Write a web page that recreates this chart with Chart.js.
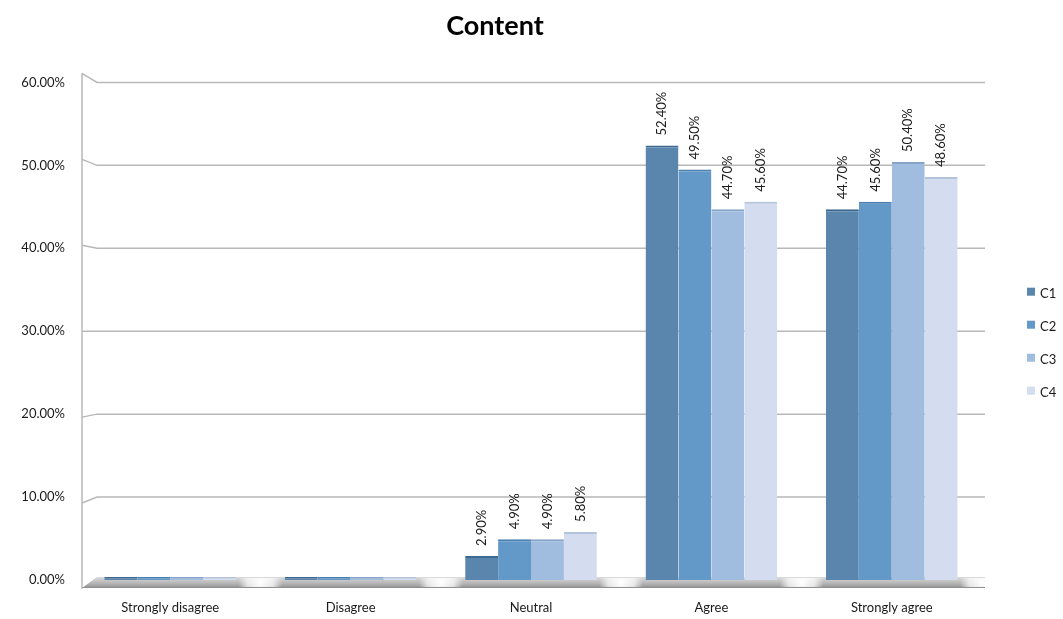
<!DOCTYPE html>
<html>
<head>
<meta charset="utf-8">
<script src="https://cdn.jsdelivr.net/npm/chart.js@4/dist/chart.umd.min.js"></script>
<style>
  html, body { margin: 0; padding: 0; background: #fff; }
  #wrap { width: 1063px; height: 619px; }
</style>
</head>
<body>
<div id="wrap"><canvas id="contentChart" width="1063" height="619"></canvas></div>
<script>
// values (percent)
const categories = ['Strongly disagree', 'Disagree', 'Neutral', 'Agree', 'Strongly agree'];
const seriesNames = ['C1', 'C2', 'C3', 'C4'];
const c1 = [0, 0, 2.9, 52.4, 44.7];
const c2 = [0, 0, 4.9, 49.5, 45.6];
const c3 = [0, 0, 4.9, 44.7, 50.4];
const c4 = [0, 0, 5.8, 45.6, 48.6];
const yTicks = [0, 10, 20, 30, 40, 50, 60];

const fills = ['#5a86ad', '#6399c8', '#a0bde0', '#d3ddef'];
const caps = ['#3f6890', '#4a7fae', '#86a4c8', '#b3c3db'];
const FONT = 'Lato, "Open Sans", sans-serif';

// slanted left wall + gridlines + floor, to mimic the 3D look
const wallPlugin = {
  id: 'wall',
  beforeDatasetsDraw(chart) {
    const { ctx, chartArea: a, scales: { y } } = chart;
    const cy = (a.top + a.bottom) / 2;
    const wallX = a.left + 2, backX = a.left + 17, rightX = a.right + 3;
    const toWall = py => cy + (py - cy) * 1.036;
    ctx.save();
    ctx.strokeStyle = '#b8b8b8';
    ctx.lineWidth = 1.5;
    yTicks.forEach(v => {
      if (v === 0) return;
      const py = y.getPixelForValue(v);
      ctx.beginPath();
      ctx.moveTo(wallX, toWall(py));
      ctx.lineTo(backX, py);
      ctx.lineTo(rightX, py);
      ctx.stroke();
    });
    // wall
    ctx.beginPath();
    ctx.moveTo(wallX, toWall(y.getPixelForValue(60)));
    ctx.lineTo(wallX, toWall(a.bottom - 2) + 2);
    ctx.stroke();

    // floor band
    const top = a.bottom - 3, bot = a.bottom + 8;
    const g = ctx.createLinearGradient(0, top, 0, bot);
    g.addColorStop(0, '#dcdcdc');
    g.addColorStop(0.35, '#c4c4c4');
    g.addColorStop(0.75, '#a9a9a9');
    g.addColorStop(1, '#8a8a8a');
    ctx.fillStyle = g;
    ctx.beginPath();
    ctx.moveTo(backX, top);
    ctx.lineTo(rightX, top);
    ctx.lineTo(rightX, bot);
    ctx.lineTo(wallX, bot);
    ctx.closePath();
    ctx.fill();
    // white highlights between groups
    const x = chart.scales.x;
    const step = x.getPixelForValue(1) - x.getPixelForValue(0);
    for (let i = 0; i < categories.length; i++) {
      const hx = x.getPixelForValue(i) + step / 2;
      const rg = ctx.createRadialGradient(hx, (top + bot) / 2, 0, hx, (top + bot) / 2, 22);
      rg.addColorStop(0, 'rgba(255,255,255,1)');
      rg.addColorStop(0.6, 'rgba(255,255,255,0.7)');
      rg.addColorStop(1, 'rgba(255,255,255,0)');
      ctx.fillStyle = rg;
      ctx.fillRect(hx - 24, top + 1, 48, bot - top - 2);
    }
    ctx.restore();
  },
  afterDatasetsDraw(chart) {
    const { ctx } = chart;
    ctx.save();
    ctx.font = '13px ' + FONT;
    ctx.fillStyle = '#1a1a1a';
    ctx.textAlign = 'left';
    ctx.textBaseline = 'middle';
    chart.data.datasets.forEach((ds, i) => {
      chart.getDatasetMeta(i).data.forEach((bar, j) => {
        const v = ds.data[j];
        if (!v) return;
        ctx.save();
        ctx.translate(bar.x, bar.y - 10);
        ctx.rotate(-Math.PI / 2);
        ctx.fillText(v.toFixed(2) + '%', 0, 0);
        ctx.restore();
      });
    });
    ctx.restore();
  },
  afterDraw(chart) {
    // legend on the right
    const { ctx, chartArea: a } = chart;
    const n = chart.data.datasets.length;
    const gap = 33;
    const startY = (a.top + a.bottom) / 2 - (n - 1) * gap / 2 + 11;
    ctx.save();
    ctx.font = '13px ' + FONT;
    ctx.textBaseline = 'middle';
    chart.data.datasets.forEach((ds, i) => {
      const ly = startY + i * gap;
      ctx.fillStyle = ds.backgroundColor;
      ctx.fillRect(1027, ly - 5, 8, 8);
      ctx.fillStyle = '#1a1a1a';
      ctx.fillText(ds.label, 1040, ly + 1);
    });
    ctx.restore();
  }
};

const datasets = [c1, c2, c3, c4].map((vals, i) => ({
  label: seriesNames[i],
  data: vals,
  backgroundColor: fills[i],
  borderColor: caps[i],
  borderWidth: { top: 2, left: 0, right: 0, bottom: 0 },
  borderSkipped: 'start',
  minBarLength: 3,
  categoryPercentage: 0.73,
  barPercentage: 1.0
}));

new Chart(document.getElementById('contentChart').getContext('2d'), {
  type: 'bar',
  data: { labels: categories, datasets },
  options: {
    responsive: false,
    animation: false,
    layout: { padding: { left: 8, right: 81, top: 0, bottom: 3 } },
    plugins: {
      title: {
        display: true,
        text: 'Content',
        color: '#000',
        font: { family: FONT, size: 27, weight: 'bold' },
        padding: { top: 10, bottom: 40 }
      },
      legend: { display: false },
      tooltip: { enabled: false }
    },
    scales: {
      x: {
        afterFit(scale) { scale.height = 36; },
        grid: { display: false, drawTicks: false },
        border: { display: false },
        ticks: { color: '#1a1a1a', font: { family: FONT, size: 13 }, padding: 20, maxRotation: 0 }
      },
      y: {
        min: 0,
        max: 60,
        afterFit(scale) { scale.width = 72; },
        afterBuildTicks(scale) { scale.ticks = yTicks.map(v => ({ value: v })); },
        grid: { display: false, drawTicks: false },
        border: { display: false },
        ticks: {
          color: '#1a1a1a',
          font: { family: FONT, size: 13 },
          padding: 15,
          callback: v => v.toFixed(2) + '%'
        }
      }
    }
  },
  plugins: [wallPlugin]
});
</script>
</body>
</html>
